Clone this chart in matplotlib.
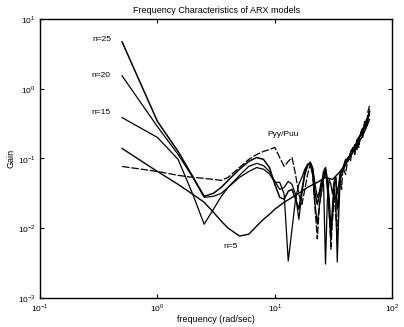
import matplotlib
matplotlib.use("Agg")
import matplotlib.pyplot as plt
from matplotlib.ticker import NullLocator, FixedFormatter, FixedLocator

# ---- data ----
f_n25 = [0.5, 1.0, 1.5, 2.0, 2.5, 3.0, 3.5, 4, 5, 6, 7, 8, 9, 10, 11, 12, 13, 14, 15, 16, 17,
         18, 19, 20, 21, 22, 23, 24, 25, 26, 27, 28, 29, 30, 31, 32, 33, 34, 35, 36, 38, 40,
         42, 45, 48, 50, 52, 55, 58, 60, 62, 64]
g_n25 = [4.7, 0.34, 0.126, 0.055, 0.0286, 0.0316, 0.0385, 0.0485, 0.070, 0.091, 0.103, 0.097,
         0.074, 0.0425, 0.0277, 0.026, 0.0338, 0.036, 0.026, 0.0187, 0.036, 0.059, 0.079, 0.088,
         0.070, 0.0306, 0.022, 0.0306, 0.0425, 0.065, 0.074, 0.050, 0.026, 0.0097, 0.0158, 0.0425,
         0.0535, 0.0187, 0.026, 0.059, 0.070, 0.091, 0.103, 0.114, 0.158, 0.134, 0.20, 0.22,
         0.277, 0.306, 0.361, 0.469]

f_n20 = [0.5, 1.0, 1.5, 2.0, 2.5, 3.0, 3.5, 4, 5, 6, 7, 8, 9, 10, 11, 12, 13, 14, 15, 16, 17,
         18, 19, 20, 21, 22, 23, 24, 25, 26, 27, 28, 29, 30, 31, 32, 33, 34, 35, 36, 38, 40,
         42, 45, 48, 50, 52, 55, 58, 60, 62, 64]
g_n20 = [1.53, 0.286, 0.114, 0.0535, 0.0277, 0.0286, 0.0316, 0.0385, 0.0535, 0.065, 0.074,
         0.070, 0.060, 0.0454, 0.0454, 0.0306, 0.00338, 0.0097, 0.026, 0.0425, 0.0535, 0.070,
         0.082, 0.082, 0.059, 0.022, 0.0114, 0.022, 0.0338, 0.0535, 0.070, 0.036, 0.0158, 0.0070,
         0.022, 0.036, 0.026, 0.00327, 0.0158, 0.050, 0.065, 0.082, 0.097, 0.134, 0.144, 0.175,
         0.187, 0.26, 0.286, 0.361, 0.385, 0.50]

f_n15 = [0.5, 1.0, 1.5, 2.0, 2.5, 3.0, 3.5, 4, 5, 6, 7, 8, 9, 10, 11, 12, 13, 14, 15, 16, 17,
         18, 19, 20, 21, 22, 23, 24, 25, 26, 27, 28, 29, 30, 31, 32, 33, 34, 35, 36, 38, 40,
         42, 45, 48, 50, 52, 55, 58, 60, 62, 64]
g_n15 = [0.385, 0.20, 0.097, 0.0306, 0.0114, 0.0187, 0.0286, 0.0385, 0.0572, 0.077, 0.085,
         0.079, 0.065, 0.0469, 0.036, 0.0385, 0.0469, 0.0425, 0.0306, 0.0134, 0.0306, 0.065,
         0.082, 0.088, 0.074, 0.0425, 0.0277, 0.0338, 0.050, 0.0425, 0.00306, 0.026, 0.050,
         0.0425, 0.0306, 0.0469, 0.0535, 0.0306, 0.0425, 0.065, 0.074, 0.097, 0.091, 0.134,
         0.126, 0.187, 0.20, 0.24, 0.306, 0.277, 0.385, 0.425]

f_n5 = [0.5, 1.0, 1.5, 2.0, 2.5, 3.0, 3.5, 4, 5, 6, 7, 8, 9, 10, 12, 15, 19, 23, 27, 31, 36,
        40, 45, 50, 55, 60, 64]
g_n5 = [0.139, 0.065, 0.0425, 0.0306, 0.0235, 0.0169, 0.0126, 0.0100, 0.0077, 0.0082, 0.0107,
        0.0134, 0.0158, 0.0187, 0.0235, 0.0296, 0.0385, 0.0454, 0.0535, 0.050, 0.065, 0.082,
        0.114, 0.158, 0.20, 0.277, 0.361]

f_pyy = [0.5, 1.0, 1.5, 2.0, 2.5, 3.0, 3.5, 4, 5, 6, 7, 8, 9, 10, 11, 12, 13, 14, 15, 16, 17,
         18, 19, 20, 21, 22, 23, 24, 25, 26, 27, 28, 29, 30, 31, 32, 33, 34, 35, 36, 37, 38,
         40, 42, 44, 46, 48, 50, 52, 54, 56, 58, 60, 62, 64]
g_pyy = [0.0768, 0.065, 0.0572, 0.0535, 0.0518, 0.050, 0.0485, 0.0535, 0.0743, 0.097, 0.114,
         0.126, 0.134, 0.144, 0.103, 0.0768, 0.0906, 0.103, 0.0591, 0.0306, 0.022, 0.036,
         0.0591, 0.082, 0.0591, 0.0187, 0.007, 0.022, 0.0338, 0.050, 0.065, 0.0425, 0.0187,
         0.0050, 0.0134, 0.0306, 0.0158, 0.0070, 0.026, 0.0535, 0.036, 0.0743, 0.0591, 0.103,
         0.0906, 0.144, 0.114, 0.187, 0.144, 0.24, 0.20, 0.338, 0.277, 0.469, 0.57]

labels = ["n=25", "n=20", "n=15", "n=5", "Pyy/Puu"]
xticks = [0.1, 1, 10, 100]
xtick_labels = [r"$10^{-1}$", r"$10^{0}$", r"$10^{1}$", r"$10^{2}$"]
yticks = [0.001, 0.01, 0.1, 1, 10]
ytick_labels = [r"$10^{-3}$", r"$10^{-2}$", r"$10^{-1}$", r"$10^{0}$", r"$10^{1}$"]

# ---- figure ----
plt.rcParams['font.family'] = ['Liberation Sans', 'DejaVu Sans']
plt.rcParams['mathtext.fontset'] = 'custom'
plt.rcParams['mathtext.rm'] = 'Liberation Sans'
fig = plt.figure(figsize=(4.04, 3.27), dpi=100)
ax = fig.add_axes([0.099, 0.089, 0.872, 0.853])

ax.plot(f_n25, g_n25, color='black', lw=1.1)
ax.plot(f_n20, g_n20, color='black', lw=0.9)
ax.plot(f_n15, g_n15, color='black', lw=0.9)
ax.plot(f_n5, g_n5, color='black', lw=1.0)
ax.plot(f_pyy, g_pyy, color='black', lw=0.9, linestyle=(0, (6, 1.5)))

ax.set_xscale('log')
ax.set_yscale('log')
ax.set_xlim(0.1, 100)
ax.set_ylim(0.001, 10)
ax.xaxis.set_major_locator(FixedLocator(xticks))
ax.xaxis.set_major_formatter(FixedFormatter(xtick_labels))
ax.yaxis.set_major_locator(FixedLocator(yticks))
ax.yaxis.set_major_formatter(FixedFormatter(ytick_labels))
ax.xaxis.set_minor_locator(NullLocator())
ax.yaxis.set_minor_locator(NullLocator())
ax.tick_params(which='major', direction='in', length=3, width=0.8, labelsize=6,
               top=True, right=True, pad=3)
for s in ax.spines.values():
    s.set_linewidth(1.0)

ax.set_title("Frequency Characteristics of ARX models", fontsize=6.5, pad=4)
ax.set_xlabel("frequency (rad/sec)", fontsize=6.5, labelpad=1)
ax.set_ylabel("Gain", fontsize=6.5, labelpad=2)

ax.text(0.335, 5.0, labels[0], fontsize=6, ha='center', va='center')
ax.text(0.33, 1.53, labels[1], fontsize=6, ha='center', va='center')
ax.text(0.33, 0.45, labels[2], fontsize=6, ha='center', va='center')
ax.text(4.2, 0.0055, labels[3], fontsize=6, ha='center', va='center')
ax.text(11.7, 0.22, labels[4], fontsize=6, ha='center', va='center')

fig.savefig("out.png", dpi=100)
